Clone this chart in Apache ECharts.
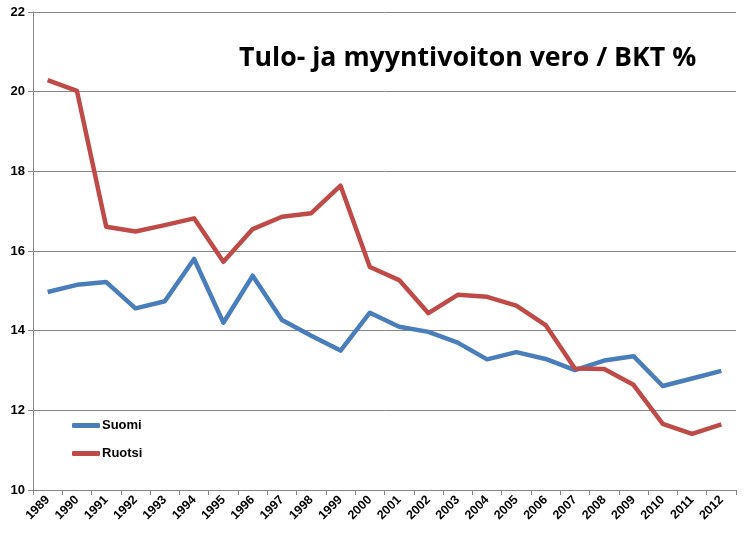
<!DOCTYPE html>
<html>
<head>
<meta charset="utf-8">
<script src="https://cdn.jsdelivr.net/npm/echarts@6/dist/echarts.min.js"></script>
<style>
  html, body { margin: 0; padding: 0; background: #fff; }
  #chart { width: 744px; height: 542px; }
</style>
</head>
<body>
<div id="chart"></div>
<script>
// Years on the x axis
const years = ["1989", "1990", "1991", "1992", "1993", "1994", "1995", "1996",
  "1997", "1998", "1999", "2000", "2001", "2002", "2003", "2004", "2005",
  "2006", "2007", "2008", "2009", "2010", "2011", "2012"];

// Tax on income and capital gains, % of GDP
const suomi = [14.97, 15.15, 15.22, 14.56, 14.74, 15.8, 14.2, 15.38, 14.27, 13.87,
  13.5, 14.45, 14.1, 13.97, 13.7, 13.28, 13.46, 13.29, 13.01, 13.25, 13.36,
  12.61, 12.8, 12.99];
const ruotsi = [20.29, 20.02, 16.61, 16.49, 16.65, 16.82, 15.73, 16.55, 16.86, 16.95,
  17.64, 15.6, 15.27, 14.44, 14.9, 14.85, 14.63, 14.14, 13.05, 13.04, 12.64,
  11.66, 11.41, 11.65];

const chart = echarts.init(document.getElementById("chart"));

const font = "Liberation Sans, Arial, sans-serif";

chart.setOption({
  animation: false,
  title: {
    text: "Tulo- ja myyntivoiton vero / BKT %",
    left: 234,
    top: 40,
    textStyle: { fontFamily: "Open Sans", fontWeight: "bold", fontSize: 26.7, color: "#000" }
  },
  legend: {
    orient: "vertical",
    left: 67,
    top: 414,
    itemGap: 15,
    itemWidth: 28,
    itemHeight: 5,
    icon: "roundRect",
    textStyle: { fontFamily: font, fontWeight: "bold", fontSize: 13, color: "#000", padding: [0, 0, 0, -3] },
    data: ["Suomi", "Ruotsi"]
  },
  grid: { left: 33, right: 8, top: 12, bottom: 52, containLabel: false },
  xAxis: {
    type: "category",
    data: years,
    boundaryGap: true,
    axisLine: { lineStyle: { color: "#868686", width: 1 } },
    axisTick: { show: true, length: 5, lineStyle: { color: "#868686" } },
    axisLabel: {
      rotate: 45,
      interval: 0,
      margin: 8,
      fontFamily: font,
      fontWeight: "bold",
      fontSize: 12.5,
      color: "#000"
    }
  },
  yAxis: {
    type: "value",
    min: 10,
    max: 22,
    interval: 2,
    axisLine: { show: true, lineStyle: { color: "#868686" } },
    axisTick: { show: true, length: 5, lineStyle: { color: "#868686" } },
    splitLine: { lineStyle: { color: "#868686", width: 1 } },
    axisLabel: { fontFamily: font, fontWeight: "bold", fontSize: 13, color: "#000", margin: 8 }
  },
  series: [
    {
      name: "Suomi",
      type: "line",
      data: suomi,
      symbol: "none",
      color: "#4a7ebb",
      lineStyle: { width: 4.5, color: "#4a7ebb", join: "round" }
    },
    {
      name: "Ruotsi",
      type: "line",
      data: ruotsi,
      symbol: "none",
      color: "#be4b48",
      lineStyle: { width: 4.5, color: "#be4b48", join: "round" }
    }
  ]
});
</script>
</body>
</html>
